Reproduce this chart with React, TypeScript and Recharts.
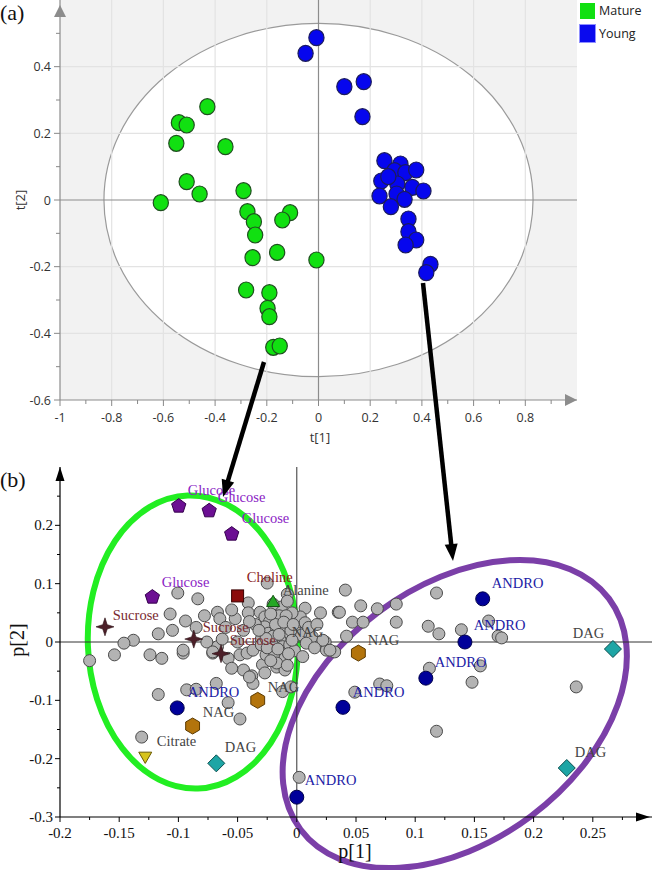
import React from "react";
import {
  ReferenceArea,
  ReferenceDot,
  ReferenceLine,
  Scatter,
  ScatterChart,
  XAxis,
  YAxis,
} from "recharts";

// ---- panel (a): scores t[1] / t[2] ----
const mature = [
  { x: -0.43, y: 0.28 }, { x: -0.54, y: 0.232 }, { x: -0.51, y: 0.225 }, { x: -0.55, y: 0.17 },
  { x: -0.36, y: 0.16 }, { x: -0.51, y: 0.055 }, { x: -0.46, y: 0.018 }, { x: -0.29, y: 0.028 },
  { x: -0.61, y: -0.008 }, { x: -0.275, y: -0.035 }, { x: -0.25, y: -0.065 }, { x: -0.245, y: -0.105 },
  { x: -0.11, y: -0.038 }, { x: -0.14, y: -0.06 }, { x: -0.255, y: -0.173 }, { x: -0.16, y: -0.157 },
  { x: -0.008, y: -0.18 }, { x: -0.28, y: -0.27 }, { x: -0.19, y: -0.278 }, { x: -0.197, y: -0.325 },
  { x: -0.19, y: -0.35 }, { x: -0.175, y: -0.442 }, { x: -0.15, y: -0.438 },
];
const young = [
  { x: -0.008, y: 0.487 }, { x: -0.05, y: 0.44 }, { x: 0.1, y: 0.34 }, { x: 0.175, y: 0.355 },
  { x: 0.17, y: 0.25 }, { x: 0.255, y: 0.118 }, { x: 0.317, y: 0.108 }, { x: 0.294, y: 0.088 },
  { x: 0.336, y: 0.082 }, { x: 0.378, y: 0.09 }, { x: 0.243, y: 0.057 }, { x: 0.305, y: 0.048 },
  { x: 0.363, y: 0.038 }, { x: 0.406, y: 0.027 }, { x: 0.27, y: 0.07 }, { x: 0.236, y: 0.012 },
  { x: 0.302, y: 0.018 }, { x: 0.333, y: 0.002 }, { x: 0.28, y: -0.02 }, { x: 0.348, y: -0.057 },
  { x: 0.348, y: -0.095 }, { x: 0.378, y: -0.12 }, { x: 0.337, y: -0.135 }, { x: 0.433, y: -0.193 },
  { x: 0.417, y: -0.218 },
];
const ticksAX = [-1, -0.9, -0.8, -0.7, -0.6, -0.5, -0.4, -0.3, -0.2, -0.1, 0, 0.1, 0.2, 0.3, 0.4, 0.5, 0.6, 0.7, 0.8, 0.9];
const ticksAY = [-0.6, -0.5, -0.4, -0.3, -0.2, -0.1, 0, 0.1, 0.2, 0.3, 0.4, 0.5];
const gridAX = [-0.8, -0.6, -0.4, -0.2, 0.2, 0.4, 0.6, 0.8];
const gridAY = [-0.4, -0.2, 0.2, 0.4];
const hotelling = { rx: 0.83, ry: 0.53 };

// ---- panel (b): loadings p[1] / p[2] ----
const loadings = [
  { x: -0.1005, y: 0.084 }, { x: -0.0836, y: 0.074 }, { x: -0.041, y: 0.067 }, { x: -0.025, y: 0.101 },
  { x: -0.008, y: 0.082 }, { x: -0.107, y: 0.048 }, { x: -0.094, y: 0.036 }, { x: -0.117, y: 0.014 },
  { x: -0.138, y: 0.003 }, { x: -0.146, y: -0.002 }, { x: -0.067, y: 0.051 }, { x: -0.065, y: 0.04 },
  { x: -0.052, y: 0.04 }, { x: -0.041, y: 0.05 }, { x: -0.055, y: 0.055 }, { x: 0.02, y: 0.05 },
  { x: 0.007, y: 0.058 }, { x: 0.041, y: 0.089 }, { x: 0.118, y: 0.084 }, { x: 0.054, y: 0.062 },
  { x: 0.035, y: 0.051 }, { x: 0.068, y: 0.057 }, { x: 0.084, y: 0.065 }, { x: 0.047, y: 0.034 },
  { x: 0.084, y: 0.034 }, { x: 0.111, y: 0.027 }, { x: 0.12, y: 0.014 }, { x: 0.139, y: 0.021 },
  { x: 0.162, y: 0.036 }, { x: 0.17, y: 0.01 }, { x: 0.173, y: 0.007 }, { x: 0.056, y: 0.034 },
  { x: 0.042, y: 0.01 }, { x: 0.024, y: 0.0 }, { x: 0.112, y: -0.045 }, { x: 0.155, y: -0.041 },
  { x: 0.148, y: -0.069 }, { x: 0.236, y: -0.077 }, { x: 0.07, y: -0.072 }, { x: 0.076, y: -0.075 },
  { x: 0.049, y: -0.086 }, { x: 0.025, y: -0.014 }, { x: 0.032, y: -0.017 }, { x: 0.118, y: -0.153 },
  { x: -0.175, y: -0.032 }, { x: -0.154, y: -0.022 }, { x: -0.124, y: -0.022 }, { x: -0.114, y: -0.028 },
  { x: -0.096, y: -0.019 }, { x: -0.071, y: -0.019 }, { x: -0.067, y: -0.008 }, { x: -0.058, y: -0.028 },
  { x: -0.048, y: -0.022 }, { x: -0.042, y: -0.019 }, { x: -0.045, y: -0.048 }, { x: -0.038, y: -0.058 },
  { x: -0.037, y: -0.071 }, { x: -0.029, y: -0.039 }, { x: -0.026, y: -0.022 }, { x: -0.017, y: -0.043 },
  { x: -0.01, y: -0.048 }, { x: -0.012, y: -0.085 }, { x: -0.005, y: -0.077 }, { x: -0.068, y: -0.071 },
  { x: -0.093, y: -0.082 }, { x: -0.085, y: -0.081 }, { x: -0.117, y: -0.09 }, { x: -0.058, y: -0.104 },
  { x: -0.048, y: -0.132 }, { x: -0.131, y: -0.163 }, { x: 0.002, y: -0.232 },
  { x: -0.031, y: 0.051 }, { x: -0.027, y: 0.043 }, { x: -0.023, y: 0.035 }, { x: -0.017, y: 0.055 },
  { x: -0.013, y: 0.06 }, { x: -0.006, y: 0.038 }, { x: -0.027, y: 0.026 }, { x: -0.024, y: 0.015 },
  { x: -0.017, y: 0.021 }, { x: -0.012, y: 0.026 }, { x: -0.009, y: 0.009 }, { x: -0.014, y: 0.003 },
  { x: -0.021, y: -0.002 }, { x: -0.012, y: -0.008 }, { x: -0.006, y: -0.005 }, { x: -0.013, y: -0.019 },
  { x: -0.019, y: -0.025 }, { x: -0.01, y: -0.028 }, { x: -0.017, y: -0.036 }, { x: 0.0, y: 0.021 },
  { x: 0.004, y: 0.012 }, { x: 0.013, y: 0.009 }, { x: 0.008, y: -0.002 }, { x: 0.003, y: 0.043 },
  { x: 0.007, y: 0.033 }, { x: 0.036, y: 0.051 }, { x: 0.022, y: 0.003 }, { x: 0.028, y: -0.014 },
  { x: -0.076, y: 0.0 }, { x: -0.063, y: 0.005 }, { x: -0.071, y: -0.017 }, { x: -0.037, y: -0.014 },
  { x: -0.04, y: -0.06 }, { x: -0.027, y: -0.053 }, { x: -0.096, y: -0.014 },
  { x: -0.02, y: 0.01 }, { x: -0.004, y: 0.05 }, { x: -0.015, y: 0.045 }, { x: -0.03, y: 0.005 },
  { x: -0.035, y: 0.03 }, { x: -0.045, y: 0.02 }, { x: -0.05, y: 0.0 }, { x: -0.06, y: 0.025 },
  { x: 0.01, y: 0.025 }, { x: 0.015, y: -0.01 }, { x: -0.002, y: -0.015 }, { x: -0.008, y: 0.07 },
  { x: -0.02, y: 0.065 }, { x: -0.03, y: -0.005 }, { x: -0.005, y: 0.02 }, { x: 0.005, y: -0.025 },
  { x: -0.025, y: -0.01 }, { x: -0.008, y: -0.04 }, { x: 0.017, y: 0.03 }, { x: -0.04, y: 0.035 },
  { x: -0.085, y: 0.025 }, { x: -0.078, y: 0.045 }, { x: -0.105, y: 0.02 }, { x: -0.055, y: -0.045 },
  { x: -0.018, y: 0.03 }, { x: -0.009, y: 0.045 }, { x: -0.022, y: 0.048 }, { x: -0.015, y: 0.013 },
  { x: -0.004, y: 0.003 }, { x: -0.026, y: 0.006 }, { x: -0.016, y: -0.012 }, { x: -0.007, y: -0.02 },
  { x: -0.022, y: -0.032 }, { x: -0.011, y: 0.034 }, { x: -0.003, y: 0.03 }, { x: -0.032, y: 0.02 },
];
const glucose = [{ x: -0.0997, y: 0.233 }, { x: -0.074, y: 0.225 }, { x: -0.055, y: 0.185 }, { x: -0.122, y: 0.077 }];
const sucrose = [{ x: -0.162, y: 0.026 }, { x: -0.087, y: 0.005 }, { x: -0.064, y: -0.02 }];
const choline = [{ x: -0.05, y: 0.079 }];
const alanine = [{ x: -0.02, y: 0.069 }];
const nag = [{ x: 0.052, y: -0.019 }, { x: -0.033, y: -0.1 }, { x: -0.088, y: -0.144 }];
const andro = [
  { x: 0.157, y: 0.074 }, { x: 0.142, y: 0.0 }, { x: 0.109, y: -0.062 },
  { x: 0.039, y: -0.112 }, { x: -0.101, y: -0.113 }, { x: 0.0, y: -0.266 },
];
const dag = [{ x: 0.267, y: -0.012 }, { x: 0.228, y: -0.216 }, { x: -0.068, y: -0.208 }];
const citrate = [{ x: -0.128, y: -0.197 }];

const labelsB = [
  { text: "Glucose", x: -0.0921, y: 0.252 }, { text: "Glucose", x: -0.0667, y: 0.24 },
  { text: "Glucose", x: -0.0465, y: 0.204 }, { text: "Glucose", x: -0.114, y: 0.094 },
  { text: "Sucrose", x: -0.1554, y: 0.038 }, { text: "Sucrose", x: -0.0794, y: 0.017 },
  { text: "Sucrose", x: -0.0566, y: -0.005 }, { text: "Choline", x: -0.0422, y: 0.103 },
  { text: "Alanine", x: -0.0118, y: 0.081 }, { text: "NAG", x: -0.0042, y: 0.0086 },
  { text: "NAG", x: 0.06, y: -0.005 }, { text: "NAG", x: -0.0245, y: -0.0858 },
  { text: "NAG", x: -0.0794, y: -0.1286 }, { text: "ANDRO", x: 0.1647, y: 0.0926 },
  { text: "ANDRO", x: 0.1495, y: 0.0206 }, { text: "ANDRO", x: 0.1166, y: -0.0429 },
  { text: "ANDRO", x: 0.0473, y: -0.0943 }, { text: "ANDRO", x: -0.0921, y: -0.0943 },
  { text: "ANDRO", x: 0.0068, y: -0.2453 }, { text: "DAG", x: 0.2331, y: 0.0069 },
  { text: "DAG", x: 0.2348, y: -0.197 }, { text: "DAG", x: -0.0608, y: -0.1887 },
  { text: "Citrate", x: -0.1182, y: -0.1784 },
];
const ticksBX = [-0.2, -0.175, -0.15, -0.125, -0.1, -0.075, -0.05, -0.025, 0, 0.025, 0.05, 0.075, 0.1, 0.125, 0.15, 0.175, 0.2, 0.225, 0.25, 0.275];
const ticksBY = [-0.3, -0.25, -0.2, -0.15, -0.1, -0.05, 0, 0.05, 0.1, 0.15, 0.2, 0.25];
// ellipse groups in loading space (centre, half-axes, tilt in degrees)
const matureGroup = { cx: -0.0878, cy: 0, rx: 0.0887, ry: 0.2513, tilt: -2 };
const youngGroup = { cx: 0.1334, cy: -0.1235, rx: 0.1627, ry: 0.2185, tilt: -36.8 };

const labelColor: Record<string, string> = {
  Glucose: "#8a1cc4",
  Sucrose: "#7a2a30",
  Choline: "#8a2222",
  Alanine: "#444",
  NAG: "#444",
  ANDRO: "#1c1ca6",
  DAG: "#444",
  Citrate: "#444",
};

const SANS = "'Open Sans', sans-serif";
const SERIF = "'Liberation Serif', 'Times New Roman', serif";
const fmt = (v: number) => String(+v.toFixed(3));

// ---- tick renderers ----
const TickAX = ({ x, y, payload }: any) => {
  const v = payload.value;
  const major = Math.abs(Math.round(v * 10)) % 2 === 0;
  return (
    <g>
      <line x1={x} x2={x} y1={y} y2={y + (major ? 6 : 4)} stroke="#888" />
      {major && (
        <text x={x} y={y + 22} textAnchor="middle" fontFamily={SANS} fontSize={12.5} fill="#333">
          {fmt(v)}
        </text>
      )}
    </g>
  );
};
const TickAY = ({ x, y, payload }: any) => {
  const v = payload.value;
  const major = Math.abs(Math.round(v * 10)) % 2 === 0;
  return (
    <g>
      <line x1={x - (major ? 6 : 4)} x2={x} y1={y} y2={y} stroke="#888" />
      {major && (
        <text x={x - 9} y={y + 4.5} textAnchor="end" fontFamily={SANS} fontSize={12.5} fill="#333">
          {fmt(v)}
        </text>
      )}
    </g>
  );
};
const TickBX = ({ x, y, payload }: any) => {
  const v = payload.value;
  const major = Math.abs(Math.round(v * 1000)) % 50 === 0;
  return (
    <g>
      <line x1={x} x2={x} y1={y} y2={y + (major ? 5 : 3)} stroke="#000" />
      {major && (
        <text x={x} y={y + 21} textAnchor="middle" fontFamily={SERIF} fontSize={15} fill="#111">
          {fmt(v)}
        </text>
      )}
    </g>
  );
};
const TickBY = ({ x, y, payload }: any) => {
  const v = payload.value;
  const major = Math.abs(Math.round(v * 1000)) % 100 === 0;
  return (
    <g>
      <line x1={x - (major ? 5 : 3)} x2={x} y1={y} y2={y} stroke="#000" />
      {major && (
        <text x={x - 7} y={y + 5} textAnchor="end" fontFamily={SERIF} fontSize={15} fill="#111">
          {fmt(v)}
        </text>
      )}
    </g>
  );
};

// ---- marker shapes ----
const poly = (cx: number, cy: number, n: number, r: number, start: number) =>
  Array.from({ length: n }, (_, i) => {
    const a = start + (i * 2 * Math.PI) / n;
    return `${cx + r * Math.cos(a)},${cy + r * Math.sin(a)}`;
  }).join(" ");

const scoreDot = (fill: string, stroke: string) => (p: any) => (
  <ellipse cx={p.cx} cy={p.cy} rx={7.6} ry={8} fill={fill} stroke={stroke} strokeWidth={1.2} />
);
const grayDot = (p: any) => <circle cx={p.cx} cy={p.cy} r={6} fill="#b3b3b3" stroke="#4a4a4a" strokeWidth={1} />;
const pentagon = (p: any) => (
  <polygon points={poly(p.cx, p.cy, 5, 7.5, -Math.PI / 2)} fill="#6c0f93" stroke="#35004d" strokeWidth={1} />
);
const star = (p: any) => {
  const { cx, cy } = p;
  const o = 9, i = 2.2;
  const pts = [
    [cx, cy - o], [cx + i, cy - i], [cx + o, cy], [cx + i, cy + i],
    [cx, cy + o], [cx - i, cy + i], [cx - o, cy], [cx - i, cy - i],
  ].map((q) => q.join(",")).join(" ");
  return <polygon points={pts} fill="#4c1f28" stroke="#2a0f14" strokeWidth={0.6} />;
};
const square = (p: any) => (
  <rect x={p.cx - 6} y={p.cy - 6} width={12} height={12} fill="#8b0b0b" stroke="#3a0000" strokeWidth={1} />
);
const triUp = (p: any) => (
  <polygon points={poly(p.cx, p.cy + 1, 3, 7.5, -Math.PI / 2)} fill="#25a825" stroke="#135513" strokeWidth={1} />
);
const hexagon = (p: any) => (
  <polygon points={poly(p.cx, p.cy, 6, 8, -Math.PI / 2)} fill="#b3740c" stroke="#5c3a00" strokeWidth={1} />
);
const navyDot = (p: any) => <circle cx={p.cx} cy={p.cy} r={7} fill="#00009a" stroke="#00004a" strokeWidth={1} />;
const diamond = (p: any) => (
  <polygon points={poly(p.cx, p.cy, 4, 8.5, -Math.PI / 2)} fill="#1ea5a5" stroke="#0a4f4f" strokeWidth={1} />
);
const triDown = (p: any) => (
  <polygon points={poly(p.cx, p.cy - 1, 3, 7.5, Math.PI / 2)} fill="#d7c31b" stroke="#6a5a00" strokeWidth={1} />
);

// ---- overlay shapes ----
const hotellingShade = (p: any) => {
  const { x, y, width, height } = p;
  const cx = x + width / 2;
  const cy = y + height / 2;
  const rx = (width * hotelling.rx) / 2;
  const ry = (height * hotelling.ry) / 1.2;
  const ell = `M ${cx - rx} ${cy} a ${rx} ${ry} 0 1 0 ${2 * rx} 0 a ${rx} ${ry} 0 1 0 ${-2 * rx} 0 Z`;
  return (
    <g>
      <path d={`M ${x} ${y} h ${width} v ${height} h ${-width} Z ${ell}`} fill="#000" fillOpacity={0.05} fillRule="evenodd" />
      <path d={ell} fill="none" stroke="#9a9a9a" strokeWidth={1.2} />
    </g>
  );
};
const groupEllipse = (color: string, tilt: number) => (p: any) => {
  const cx = p.x + p.width / 2;
  const cy = p.y + p.height / 2;
  return (
    <ellipse
      cx={cx}
      cy={cy}
      rx={Math.abs(p.width) / 2}
      ry={Math.abs(p.height) / 2}
      transform={`rotate(${tilt} ${cx} ${cy})`}
      fill="none"
      stroke={color}
      strokeWidth={6}
    />
  );
};
const arrowUp = (color: string, len: number, half: number, gap: number) => (p: any) => (
  <polygon
    points={`${p.cx},${p.cy + gap} ${p.cx - half},${p.cy + gap + len} ${p.cx + half},${p.cy + gap + len}`}
    fill={color}
  />
);
const arrowRight = (color: string, len: number, half: number, gap: number) => (p: any) => (
  <polygon
    points={`${p.cx - gap},${p.cy} ${p.cx - gap - len},${p.cy - half} ${p.cx - gap - len},${p.cy + half}`}
    fill={color}
  />
);

function Arrow({ x1, y1, x2, y2 }: { x1: number; y1: number; x2: number; y2: number }) {
  const dx = x2 - x1;
  const dy = y2 - y1;
  const L = Math.hypot(dx, dy);
  const ux = dx / L;
  const uy = dy / L;
  const hl = 17;
  const hw = 6.5;
  const bx = x2 - ux * hl;
  const by = y2 - uy * hl;
  return (
    <g>
      <line x1={x1} y1={y1} x2={bx + ux * 2} y2={by + uy * 2} stroke="#000" strokeWidth={4.5} />
      <polygon points={`${x2},${y2} ${bx - uy * hw},${by + ux * hw} ${bx + uy * hw},${by - ux * hw}`} fill="#000" />
    </g>
  );
}

export default function App() {
  return (
    <div style={{ position: "absolute", left: 0, top: 0, width: 652, height: 870, background: "#fff", overflow: "hidden" }}>
      {/* panel (a) */}
      <div style={{ position: "absolute", left: 0, top: 0 }}>
        <ScatterChart width={652} height={445} margin={{ top: 0, right: 75, bottom: 0, left: 0 }}>
          <XAxis
            type="number"
            dataKey="x"
            domain={[-1, 1]}
            allowDataOverflow
            ticks={ticksAX}
            interval={0}
            tickSize={0}
            tickMargin={0}
            tick={<TickAX />}
            axisLine={{ stroke: "#8c8c8c", strokeWidth: 1.2 }}
            height={45}
          />
          <YAxis
            type="number"
            dataKey="y"
            domain={[-0.6, 0.6]}
            allowDataOverflow
            ticks={ticksAY}
            interval={0}
            tickSize={0}
            tickMargin={0}
            tick={<TickAY />}
            axisLine={{ stroke: "#8c8c8c", strokeWidth: 1.2 }}
            width={60}
          />
          {gridAX.map((v) => (
            <ReferenceLine key={`gx${v}`} x={v} stroke="#e3e3e3" strokeWidth={1.2} />
          ))}
          {gridAY.map((v) => (
            <ReferenceLine key={`gy${v}`} y={v} stroke="#e3e3e3" strokeWidth={1.2} />
          ))}
          <ReferenceLine x={0} stroke="#8c8c8c" strokeWidth={1.2} />
          <ReferenceLine y={0} stroke="#8c8c8c" strokeWidth={1.2} />
          <ReferenceArea x1={-1} x2={1} y1={-0.6} y2={0.6} ifOverflow="visible" shape={hotellingShade} />
          <Scatter data={mature} isAnimationActive={false} shape={scoreDot("#11e011", "#1f4f1f")} />
          <Scatter data={young} isAnimationActive={false} shape={scoreDot("#0606ee", "#1c1c5c")} />
          <ReferenceDot x={-1} y={0.6} r={0} ifOverflow="visible" shape={arrowUp("#8c8c8c", 12, 6, 5)} />
          <ReferenceDot x={1} y={-0.6} r={0} ifOverflow="visible" shape={arrowRight("#8c8c8c", 12, 6, 0)} />
        </ScatterChart>
      </div>

      {/* panel (b) */}
      <div style={{ position: "absolute", left: 0, top: 440 }}>
        <ScatterChart width={652} height={430} margin={{ top: 27, right: 0, bottom: 0, left: 0 }}>
          <XAxis
            type="number"
            dataKey="x"
            domain={[-0.2, 0.3]}
            allowDataOverflow
            ticks={ticksBX}
            interval={0}
            tickSize={0}
            tickMargin={0}
            tick={<TickBX />}
            axisLine={{ stroke: "#000", strokeWidth: 1.2 }}
            height={53}
          />
          <YAxis
            type="number"
            dataKey="y"
            domain={[-0.3, 0.3]}
            allowDataOverflow
            ticks={ticksBY}
            interval={0}
            tickSize={0}
            tickMargin={0}
            tick={<TickBY />}
            axisLine={{ stroke: "#000", strokeWidth: 1.2 }}
            width={60}
          />
          <ReferenceLine y={0} stroke="#333" strokeWidth={1} />
          <ReferenceLine x={0} stroke="#333" strokeWidth={1} />
          <Scatter data={loadings} isAnimationActive={false} shape={grayDot} />
          <Scatter data={glucose} isAnimationActive={false} shape={pentagon} />
          <Scatter data={sucrose} isAnimationActive={false} shape={star} />
          <Scatter data={choline} isAnimationActive={false} shape={square} />
          <Scatter data={alanine} isAnimationActive={false} shape={triUp} />
          <Scatter data={nag} isAnimationActive={false} shape={hexagon} />
          <Scatter data={andro} isAnimationActive={false} shape={navyDot} />
          <Scatter data={dag} isAnimationActive={false} shape={diamond} />
          <Scatter data={citrate} isAnimationActive={false} shape={triDown} />
          {labelsB.map((l, i) => (
            <ReferenceDot
              key={`lb${i}`}
              x={l.x}
              y={l.y}
              r={0}
              ifOverflow="visible"
              shape={(p: any) => (
                <text x={p.cx} y={p.cy} fontFamily={SERIF} fontSize={14.5} fill={labelColor[l.text]}>
                  {l.text}
                </text>
              )}
            />
          ))}
          <ReferenceArea
            x1={matureGroup.cx - matureGroup.rx}
            x2={matureGroup.cx + matureGroup.rx}
            y1={matureGroup.cy - matureGroup.ry}
            y2={matureGroup.cy + matureGroup.ry}
            ifOverflow="visible"
            shape={groupEllipse("#22ee22", matureGroup.tilt)}
          />
          <ReferenceArea
            x1={youngGroup.cx - youngGroup.rx}
            x2={youngGroup.cx + youngGroup.rx}
            y1={youngGroup.cy - youngGroup.ry}
            y2={youngGroup.cy + youngGroup.ry}
            ifOverflow="visible"
            shape={groupEllipse("#7b3fa8", youngGroup.tilt)}
          />
          <ReferenceDot x={-0.2} y={0.3} r={0} ifOverflow="visible" shape={arrowUp("#000", 14, 4.5, 0)} />
          <ReferenceDot x={0.3} y={-0.3} r={0} ifOverflow="visible" shape={arrowRight("#000", 14, 4.5, 2)} />
        </ScatterChart>
      </div>

      {/* texts */}
      <div style={{ position: "absolute", left: 0, top: 0, fontFamily: SERIF, fontSize: 22, color: "#111", lineHeight: "26px" }}>(a)</div>
      <div style={{ position: "absolute", left: 0, top: 467, fontFamily: SERIF, fontSize: 22, color: "#111", lineHeight: "26px" }}>(b)</div>
      <div style={{ position: "absolute", left: 320, top: 437, transform: "translate(-50%,-50%)", fontFamily: SANS, fontSize: 13, color: "#333" }}>t[1]</div>
      <div style={{ position: "absolute", left: 20, top: 200, transform: "translate(-50%,-50%) rotate(-90deg)", fontFamily: SANS, fontSize: 13, color: "#333" }}>t[2]</div>
      <div style={{ position: "absolute", left: 355, top: 851, transform: "translate(-50%,-50%)", fontFamily: SERIF, fontSize: 20, color: "#111" }}>p[1]</div>
      <div style={{ position: "absolute", left: 17, top: 640, transform: "translate(-50%,-50%) rotate(-90deg)", fontFamily: SERIF, fontSize: 20, color: "#111" }}>p[2]</div>

      {/* legend (a) */}
      <div style={{ position: "absolute", left: 580, top: 3, width: 15, height: 16, background: "#11e011" }} />
      <div style={{ position: "absolute", left: 599, top: 2, fontFamily: SANS, fontSize: 12.5, color: "#222", lineHeight: "18px" }}>Mature</div>
      <div style={{ position: "absolute", left: 580, top: 25, width: 15, height: 17, background: "#0a0aee", outline: "1px solid #9090ff" }} />
      <div style={{ position: "absolute", left: 599, top: 25, fontFamily: SANS, fontSize: 12.5, color: "#222", lineHeight: "18px" }}>Young</div>

      {/* arrows linking the panels */}
      <svg width={652} height={870} style={{ position: "absolute", left: 0, top: 0, pointerEvents: "none" }}>
        <Arrow x1={264} y1={362} x2={223} y2={497} />
        <Arrow x1={423} y1={283} x2={453} y2={561} />
      </svg>
    </div>
  );
}
